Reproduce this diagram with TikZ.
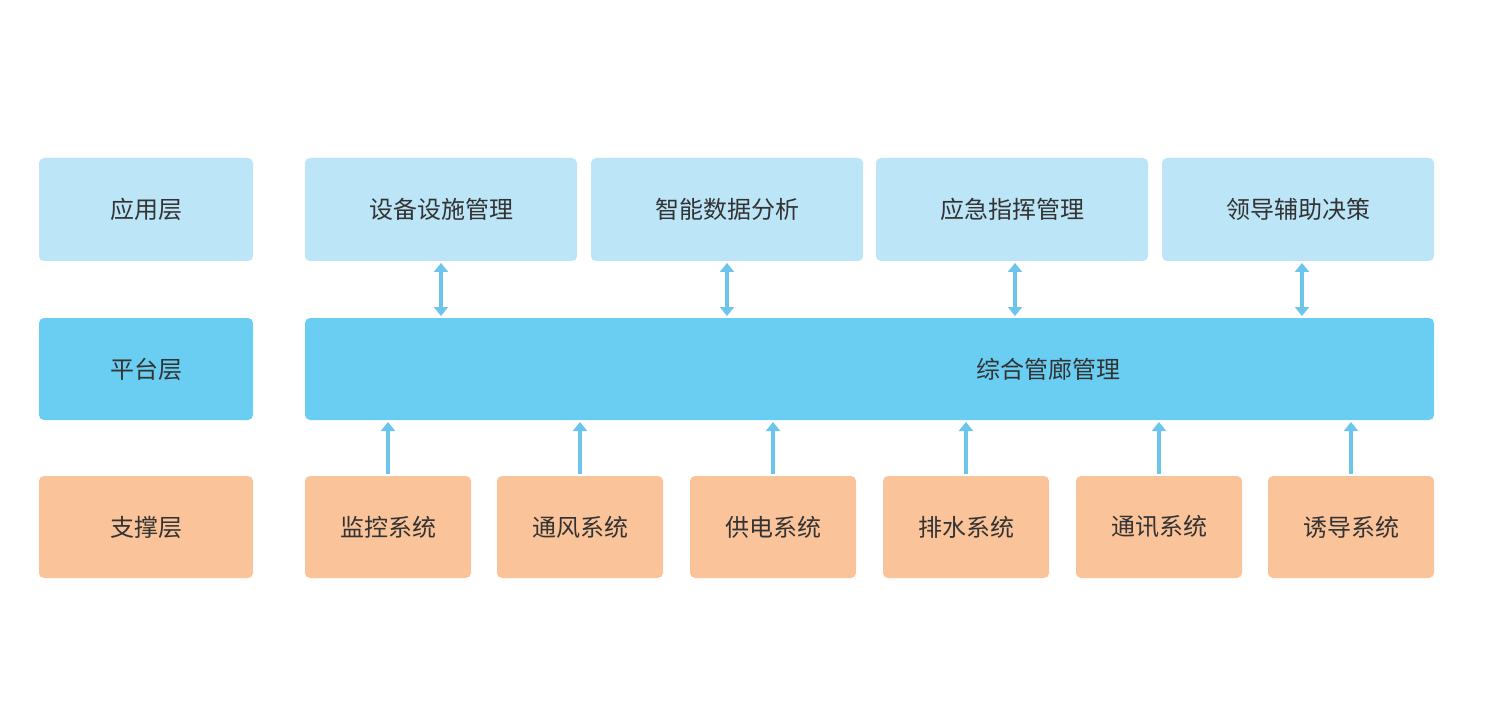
\documentclass[tikz,border=0pt]{standalone}
\usepackage{fontspec}
\newfontfamily\cjk{Noto Sans CJK SC}
\usetikzlibrary{arrows.meta}
\definecolor{lb}{HTML}{BDE5F8}
\definecolor{mb}{HTML}{6ACDF2}
\definecolor{ob}{HTML}{FAC39A}
\definecolor{ar}{HTML}{6CC6EC}
\definecolor{tx}{HTML}{333333}
\begin{document}
\begin{tikzpicture}[x=1pt,y=-1pt,
  bx/.style={rounded corners=5pt,inner sep=0pt},
  lbl/.style={font=\cjk\fontsize{24}{28}\selectfont,text=tx},
  con/.style={draw=ar,line width=3.5pt,-{Triangle[length=9pt,width=14pt]}},
  dcon/.style={draw=ar,line width=3.5pt,{Triangle[length=9pt,width=14pt]}-{Triangle[length=9pt,width=14pt]}}]
\useasboundingbox[fill=white] (0,0) rectangle (1500,722);
\newcommand\bxx[6]{\fill[bx,#5] (#1,#2) rectangle (#3,#4); \node[lbl] (#6) at ({(#1+#3)/2},{(#2+#4)/2}) {};}
% row 1
\fill[bx,lb] (39,158) rectangle (253,261); \node[lbl] (l1) at (146,209.5) {应用层};
\fill[bx,lb] (305,158) rectangle (577,261); \node[lbl] (a1) at (441,209.5) {设备设施管理};
\fill[bx,lb] (591,158) rectangle (863,261); \node[lbl] (a2) at (727,209.5) {智能数据分析};
\fill[bx,lb] (876,158) rectangle (1148,261); \node[lbl] (a3) at (1012,209.5) {应急指挥管理};
\fill[bx,lb] (1162,158) rectangle (1434,261); \node[lbl] (a4) at (1298,209.5) {领导辅助决策};
% row 2
\fill[bx,mb] (39,318) rectangle (253,420); \node[lbl] (l2) at (146,369) {平台层};
\fill[bx,mb] (305,318) rectangle (1434,420); \node[lbl] (p) at (1048,369) {综合管廊管理};
% row 3
\fill[bx,ob] (39,476) rectangle (253,578); \node[lbl] (l3) at (146,527) {支撑层};
\fill[bx,ob] (305,476) rectangle (471,578); \node[lbl] (s1) at (388,527) {监控系统};
\fill[bx,ob] (497,476) rectangle (663,578); \node[lbl] (s2) at (580,527) {通风系统};
\fill[bx,ob] (690,476) rectangle (856,578); \node[lbl] (s3) at (773,527) {供电系统};
\fill[bx,ob] (883,476) rectangle (1049,578); \node[lbl] (s4) at (966,527) {排水系统};
\fill[bx,ob] (1076,476) rectangle (1242,578); \node[lbl] (s5) at (1159,527) {通讯系统};
\fill[bx,ob] (1268,476) rectangle (1434,578); \node[lbl] (s6) at (1351,527) {诱导系统};
% arrows
\foreach \x/\n in {441/1,727/2,1015/3,1302/4}{
  \coordinate (t\n) at (\x,263); \coordinate (b\n) at (\x,316);
  \draw[dcon] (t\n) -- (b\n);}
\foreach \x/\n in {388/1,580/2,773/3,966/4,1159/5,1351/6}{
  \coordinate (u\n) at (\x,474); \coordinate (v\n) at (\x,422);
  \draw[con] (u\n) -- (v\n);}
\end{tikzpicture}
\end{document}
